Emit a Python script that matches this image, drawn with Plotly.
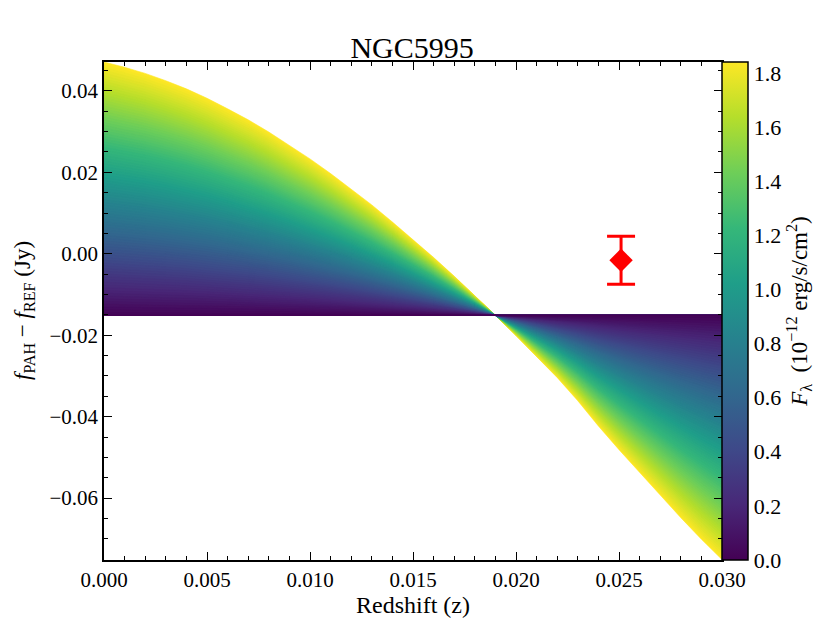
import plotly.graph_objects as go
from plotly.colors import sample_colorscale

# ---------------- data ----------------
# redshift grid
redshift = [0.000, 0.001, 0.002, 0.003, 0.004, 0.005, 0.006, 0.007, 0.008, 0.009,
            0.010, 0.011, 0.012, 0.013, 0.014, 0.015, 0.016, 0.017, 0.018, 0.019,
            0.020, 0.021, 0.022, 0.023, 0.024, 0.025, 0.026, 0.027, 0.028, 0.029,
            0.030]
# f_PAH - f_REF for the brightest model (F_lambda = 1.84) (Jy)
top_curve = [0.0471, 0.0458, 0.0443, 0.0425, 0.0405, 0.0382, 0.0356, 0.0329, 0.0299, 0.0267,
             0.0233, 0.0197, 0.0159, 0.0120, 0.0078, 0.0035, -0.0009, -0.0055, -0.0102, -0.0151,
             -0.0201, -0.0252, -0.0304, -0.0361, -0.0423, -0.0481, -0.0537, -0.0593, -0.0648, -0.0701,
             -0.0751]
# zero-flux model level (Jy)
baseline = -0.0151
# model flux grid (10^-12 erg/s/cm^2)
flux_levels = [0.00, 0.02, 0.04, 0.06, 0.08, 0.10, 0.12, 0.14, 0.16, 0.18,
               0.20, 0.22, 0.24, 0.26, 0.28, 0.30, 0.32, 0.34, 0.36, 0.38,
               0.40, 0.42, 0.44, 0.46, 0.48, 0.50, 0.52, 0.54, 0.56, 0.58,
               0.60, 0.62, 0.64, 0.66, 0.68, 0.70, 0.72, 0.74, 0.76, 0.78,
               0.80, 0.82, 0.84, 0.86, 0.88, 0.90, 0.92, 0.94, 0.96, 0.98,
               1.00, 1.02, 1.04, 1.06, 1.08, 1.10, 1.12, 1.14, 1.16, 1.18,
               1.20, 1.22, 1.24, 1.26, 1.28, 1.30, 1.32, 1.34, 1.36, 1.38,
               1.40, 1.42, 1.44, 1.46, 1.48, 1.50, 1.52, 1.54, 1.56, 1.58,
               1.60, 1.62, 1.64, 1.66, 1.68, 1.70, 1.72, 1.74, 1.76, 1.78,
               1.80, 1.82, 1.84]
flux_max = 1.84
# observed point
obs_z = [0.0251]
obs_diff = [-0.0016]
obs_err = [0.0059]

x_ticks = [0.000, 0.005, 0.010, 0.015, 0.020, 0.025, 0.030]
y_ticks = [-0.06, -0.04, -0.02, 0.00, 0.02, 0.04]
cb_ticks = [0.0, 0.2, 0.4, 0.6, 0.8, 1.0, 1.2, 1.4, 1.6, 1.8]

FONT = "Liberation Serif"

fig = go.Figure()

# model curves: filled polygon between baseline and each curve, brightest first
for f in sorted(flux_levels, reverse=True):
    if f == 0:
        continue
    s = f / flux_max
    col = sample_colorscale("Viridis", [s])[0]
    curve = [baseline + s * (t - baseline) for t in top_curve]
    xs = redshift + [redshift[-1], redshift[0]]
    ys = curve + [baseline, baseline]
    fig.add_trace(go.Scatter(x=xs, y=ys, mode="lines", fill="toself",
                             fillcolor=col, line=dict(color=col, width=0.6),
                             hoverinfo="skip", showlegend=False))

# zero-flux line
fig.add_trace(go.Scatter(x=[redshift[0], redshift[-1]], y=[baseline, baseline], mode="lines",
                         line=dict(color=sample_colorscale("Viridis", [0])[0], width=1.2),
                         hoverinfo="skip", showlegend=False))

# colorbar carrier
fig.add_trace(go.Scatter(x=[-1, -1], y=[0, 0], mode="markers",
                         marker=dict(color=[0, flux_max], colorscale="Viridis", cmin=0, cmax=flux_max,
                                     showscale=True, size=1,
                                     colorbar=dict(x=1.0, xref="paper", xanchor="left", xpad=0,
                                                   y=0.5, yanchor="middle", len=1, lenmode="fraction",
                                                   ypad=0, thickness=26, thicknessmode="pixels",
                                                   outlinewidth=1.5, outlinecolor="black",
                                                   tickvals=cb_ticks, ticktext=[f"{v:.1f}" for v in cb_ticks],
                                                   ticks="", ticklabelposition="outside",
                                                   tickfont=dict(family=FONT, size=22, color="black"),
                                                   title=dict(text="<i>F</i><sub>λ</sub>  (10<sup>−12</sup> erg/s/cm<sup>2</sup>)",
                                                              side="right",
                                                              font=dict(family=FONT, size=23, color="black")))),
                         hoverinfo="skip", showlegend=False))

# observed point
fig.add_trace(go.Scatter(x=obs_z, y=obs_diff, mode="markers",
                         marker=dict(symbol="diamond", size=18, color="red"),
                         error_y=dict(type="data", array=obs_err, color="red", thickness=3, width=14),
                         showlegend=False))

axis_common = dict(showline=True, linecolor="black", linewidth=1.5, mirror="ticks",
                   ticks="inside", ticklen=8, tickwidth=1, tickcolor="black",
                   showgrid=False, zeroline=False, automargin=False,
                   tickfont=dict(family=FONT, size=21, color="black"))

fig.update_layout(
    width=814, height=615,
    margin=dict(l=96, r=100, t=54, b=63, autoexpand=False),
    font=dict(family=FONT, color="black"),
    plot_bgcolor="white", paper_bgcolor="white",
    title=dict(text="NGC5995", x=0.4985, xanchor="center", xref="paper",
               y=1, yref="paper", yanchor="bottom", pad=dict(b=4),
               font=dict(family=FONT, size=30, color="black")),
    xaxis=dict(range=[0, 0.030], tickvals=x_ticks, ticktext=[f"{v:.3f}" for v in x_ticks],
               minor=dict(ticks="inside", dtick=0.001, ticklen=4, tickcolor="black"),
               **axis_common),
    yaxis=dict(range=[-0.0752, 0.0471], tickvals=y_ticks,
               ticktext=[f"{v:.2f}".replace("-", "−") for v in y_ticks],
               minor=dict(ticks="inside", dtick=0.005, tick0=0, ticklen=4, tickcolor="black"),
               **axis_common),
    annotations=[
        dict(text="Redshift (z)", xref="paper", yref="paper", x=0.5, y=0,
             xanchor="center", yanchor="middle", yshift=-45, showarrow=False,
             font=dict(family=FONT, size=24, color="black")),
        dict(text="<i>f</i><sub>PAH</sub> − <i>f</i><sub>REF</sub> (Jy)", xref="paper", yref="paper",
             x=0, y=0.5, xanchor="center", yanchor="middle", xshift=-80, textangle=-90,
             showarrow=False, font=dict(family=FONT, size=23, color="black")),
    ],
)

fig.write_html("out.html")
